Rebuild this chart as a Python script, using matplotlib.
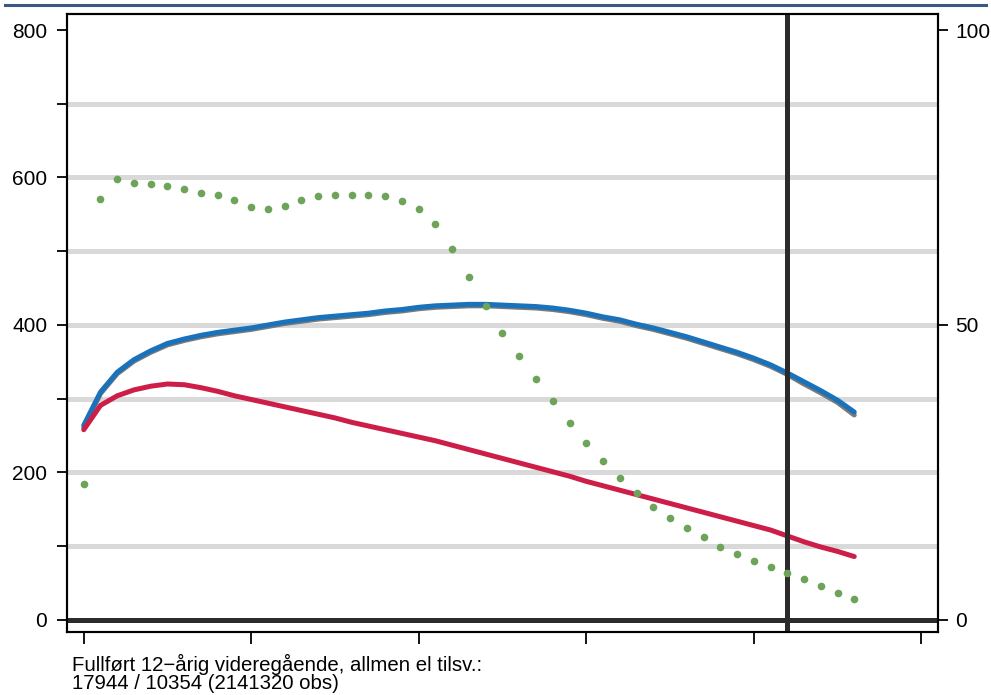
import matplotlib
matplotlib.use("Agg")
import matplotlib.pyplot as plt
from matplotlib.lines import Line2D

plt.rcParams['font.family'] = ['Liberation Sans', 'DejaVu Sans']

ages = list(range(20, 67))

# left axis (level)
blue = [264, 309, 336, 353, 365, 375, 381, 386, 390, 393, 396, 400, 404, 407, 410, 412,
        414, 416, 419, 421, 424, 426, 427, 428, 428, 427, 426, 425, 423, 420, 416, 411,
        407, 401, 396, 390, 384, 377, 370, 363, 355, 346, 335, 323, 311, 298, 282]
gray = [261, 307, 334, 351, 363, 373, 379, 384, 388, 391, 394, 398, 402, 405, 408, 410,
        412, 414, 417, 419, 422, 424, 425, 426, 426, 425, 424, 423, 421, 418, 414, 409,
        405, 399, 394, 388, 382, 375, 368, 361, 353, 344, 333, 320, 308, 295, 278]
red = [258, 291, 304, 312, 317, 320, 319, 315, 310, 304, 299, 294, 289, 284, 279, 274,
       268, 263, 258, 253, 248, 243, 237, 231, 225, 219, 213, 207, 201, 195, 188, 182,
       176, 170, 164, 158, 152, 146, 140, 134, 128, 122, 114, 106, 99, 93, 86]

# right axis (percent)
green = [23.0, 71.4, 74.8, 74.0, 73.9, 73.5, 73.0, 72.4, 72.1, 71.2, 70.0, 69.6, 70.2,
         71.2, 71.8, 72.0, 72.0, 72.0, 71.9, 71.0, 69.6, 67.1, 62.9, 58.1, 53.2, 48.6,
         44.7, 40.9, 37.1, 33.4, 30.0, 27.0, 24.0, 21.5, 19.2, 17.3, 15.6, 14.1, 12.4,
         11.1, 10.0, 8.9, 8.0, 7.0, 5.8, 4.6, 3.5]

ref_age = 62
note = "Fullført 12\u2212årig videregående, allmen el tilsv.:\n17944 / 10354 (2141320 obs)"

fig = plt.figure(figsize=(9.91, 6.95), dpi=100)
ax = fig.add_axes([67/991, 1-632/695, (938-67)/991, (632-14)/695])

ax.set_xlim(19, 71)
ax.set_ylim(-16.3, 821.7)
ax.set_yticks(range(0, 801, 100))
ax.set_yticklabels([str(v) if v % 200 == 0 else '' for v in range(0, 801, 100)])
ax.set_xticks(range(20, 71, 10))
ax.set_xticklabels([])
for v in range(100, 800, 100):
    ax.axhline(v, color='#d9d9d9', lw=3.6, zorder=0)

ax.plot(ages, gray, color='#7a7a7a', lw=3.6, solid_capstyle='round', solid_joinstyle='round', zorder=3)
ax.plot(ages, blue, color='#1a72bb', lw=3.6, solid_capstyle='round', solid_joinstyle='round', zorder=4)
ax.plot(ages, red, color='#cc1e48', lw=3.6, solid_capstyle='round', solid_joinstyle='round', zorder=4)

ax.axhline(0, color='#2b2b2b', lw=3.6, zorder=5)
ax.axvline(ref_age, color='#2b2b2b', lw=3.6, zorder=5)

ax2 = ax.twinx()
ax2.set_ylim(-16.3/8, 821.7/8)
ax2.set_yticks([0, 50, 100])
ax2.plot(ages, green, 'o', color='#6ea35a', markersize=5.5, markeredgewidth=0, zorder=6)

for a in (ax, ax2):
    for s in a.spines.values():
        s.set_linewidth(1.5)
ax.tick_params(axis='y', length=7.2, width=1.3, labelsize=15, pad=7)
ax.tick_params(axis='x', length=8.6, width=1.3)
ax2.tick_params(axis='y', length=7.2, width=1.3, labelsize=15, pad=5)

fig.text(72/991, 1-654/695, note, fontsize=14.7, va='top', ha='left', linespacing=0.92)
fig.add_artist(Line2D([5/991, 986/991], [1-5/695, 1-5/695], color='#3b5785', lw=2.2))

fig.savefig('out.png', dpi=100)
